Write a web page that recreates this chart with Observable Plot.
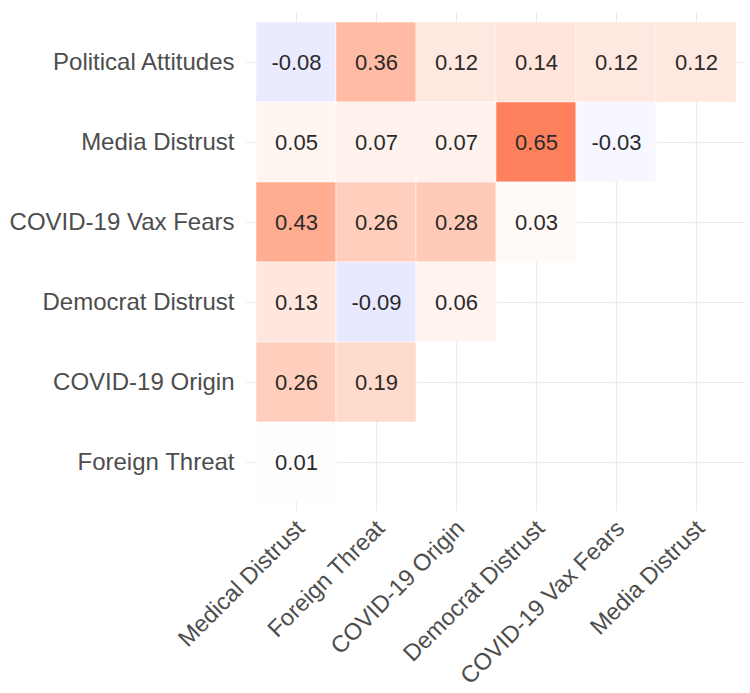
<!DOCTYPE html>
<html><head><meta charset="utf-8">
<script src="https://cdn.jsdelivr.net/npm/d3@7"></script>
<script src="https://cdn.jsdelivr.net/npm/@observablehq/plot@0.6"></script>
<style>body{margin:0;background:#fff}</style>
</head><body><div id="chart"></div>
<script>
const rowLabels = ["Political Attitudes", "Media Distrust", "COVID-19 Vax Fears", "Democrat Distrust", "COVID-19 Origin", "Foreign Threat"];
const colLabels = ["Medical Distrust", "Foreign Threat", "COVID-19 Origin", "Democrat Distrust", "COVID-19 Vax Fears", "Media Distrust"];
const politicalAttitudes = [-0.08, 0.36, 0.12, 0.14, 0.12, 0.12];
const mediaDistrust = [0.05, 0.07, 0.07, 0.65, -0.03];
const vaxFears = [0.43, 0.26, 0.28, 0.03];
const democratDistrust = [0.13, -0.09, 0.06];
const covidOrigin = [0.26, 0.19];
const foreignThreat = [0.01];
const rowValues = [politicalAttitudes, mediaDistrust, vaxFears, democratDistrust, covidOrigin, foreignThreat];
const cells = rowLabels.flatMap((r, i) => rowValues[i].map((v, j) => ({row: r, col: colLabels[j], value: v})));

const chart = Plot.plot({
  width: 750, height: 693,
  marginLeft: 246, marginRight: 5, marginTop: 12, marginBottom: 182,
  style: {fontFamily: "'Liberation Sans', Arial, sans-serif", background: "white"},
  x: {domain: colLabels, padding: 0, insetLeft: 8, insetRight: 8, label: null},
  y: {domain: rowLabels, padding: 0, insetTop: 8, insetBottom: 8, label: null},
  color: {
    type: "linear", domain: [-1, 0, 1], range: ["blue", "white", "red"],
    interpolate: (a, b) => (a === "blue" ? d3.interpolateRgb : d3.interpolateLab)(a, b)
  },
  marks: [
    Plot.gridX({stroke: "#EBEBEB", strokeOpacity: 1, strokeWidth: 1.2}),
    Plot.gridY({stroke: "#EBEBEB", strokeOpacity: 1, strokeWidth: 1.2}),
    Plot.cell(cells, {x: "col", y: "row", fill: "value", stroke: "white", strokeWidth: 0.5}),
    Plot.text(cells, {x: "col", y: "row", text: d => d.value.toFixed(2), fontSize: 22, fill: "#2a2a2a"}),
    Plot.axisY({tickSize: 0, tickPadding: 12, fontSize: 24, color: "#4d4d4d"}),
    Plot.axisX({tickSize: 0, tickRotate: -45, tickPadding: 13, dx: 4, fontSize: 23.5, color: "#4d4d4d"})
  ]
});
document.getElementById("chart").appendChild(chart);
</script>
</body></html>
